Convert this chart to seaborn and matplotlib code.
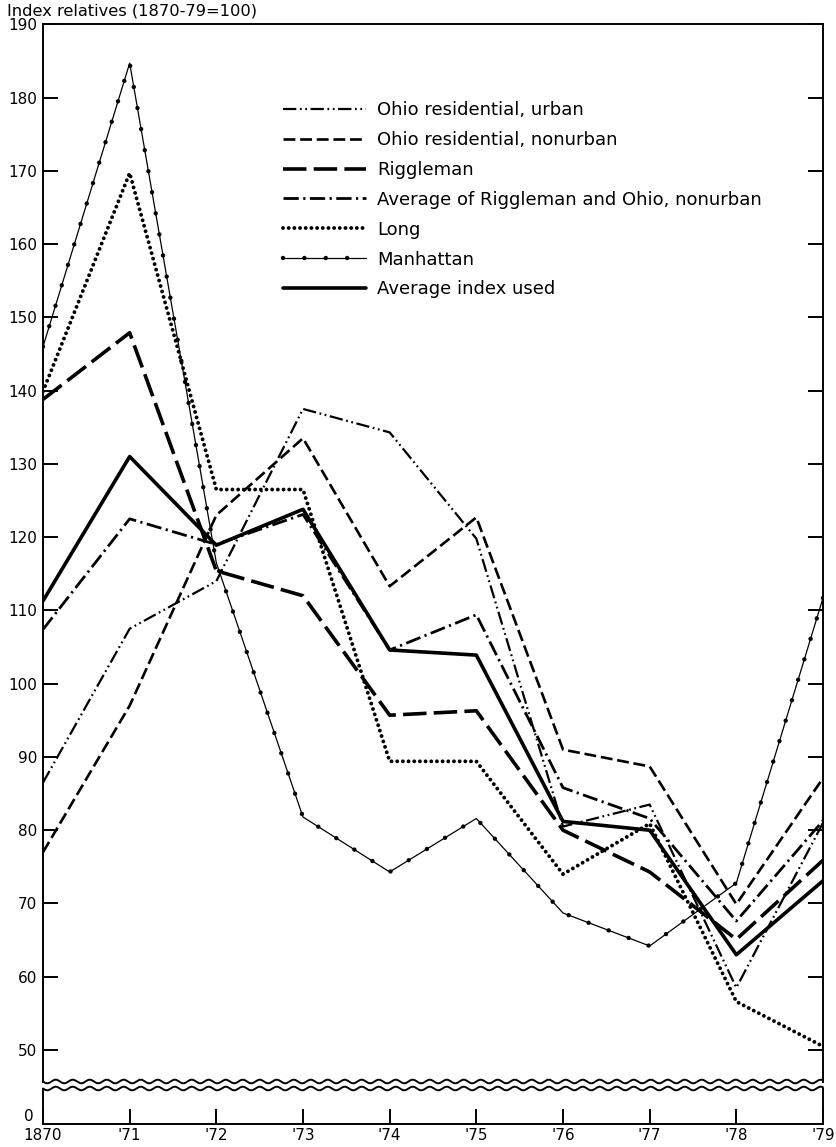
import matplotlib
matplotlib.use("Agg")
import matplotlib.pyplot as plt
from matplotlib.lines import Line2D
import numpy as np
import seaborn as sns

# --- data (index relatives, 1870-79 = 100) ---
years = list(range(1870, 1880))
year_labels = ["1870", "'71", "'72", "'73", "'74", "'75", "'76", "'77", "'78", "'79"]

ohio_urban = [86.5, 107.5, 114.0, 137.5, 134.3, 119.8, 80.5, 83.5, 58.5, 81.0]
ohio_nonurban = [77.0, 97.0, 123.0, 133.5, 113.3, 122.7, 91.0, 88.7, 69.9, 87.1]
riggleman = [138.8, 147.9, 115.4, 112.0, 95.7, 96.3, 80.0, 74.3, 65.1, 75.9]
avg_rigg_ohio = [107.4, 122.5, 119.0, 123.1, 104.6, 109.4, 85.8, 81.6, 67.6, 81.3]
long_index = [139.9, 169.7, 126.5, 126.5, 89.4, 89.4, 74.0, 80.9, 56.6, 50.5]
manhattan = [146.0, 184.7, 116.5, 81.8, 74.3, 81.6, 68.7, 64.2, 72.8, 111.7]
avg_used = [111.3, 131.0, 118.9, 123.8, 104.6, 103.9, 81.2, 80.0, 63.0, 73.1]

names = ["Ohio residential, urban", "Ohio residential, nonurban", "Riggleman",
         "Average of Riggleman and Ohio, nonurban", "Long", "Manhattan",
         "Average index used"]
values = [ohio_urban, ohio_nonurban, riggleman, avg_rigg_ohio, long_index,
          manhattan, avg_used]

sns.set_theme(style="ticks", rc={"axes.edgecolor": "black", "xtick.color": "black",
                                 "ytick.color": "black", "text.color": "black"})
plt.rcParams["font.family"] = ["DejaVu Sans"]

W, H = 836, 1147
fig = plt.figure(figsize=(W / 100, H / 100), dpi=100)

x0, x1 = 43, 823
top, wave_hi, wave_lo, bot = 24.3, 1081.5, 1088.5, 1124
ax = fig.add_axes([x0 / W, 1 - wave_hi / H, (x1 - x0) / W, (wave_hi - top) / H])
axb = fig.add_axes([x0 / W, 1 - bot / H, (x1 - x0) / W, (bot - wave_lo) / H])

styles = {
    "Ohio residential, urban": dict(lw=1.6, linestyle=(0, (6, 1.6, 0.8, 1.6, 0.8, 1.6))),
    "Ohio residential, nonurban": dict(lw=1.9, linestyle=(0, (4.5, 1.8))),
    "Riggleman": dict(lw=2.6, linestyle=(0, (6.5, 2.0))),
    "Average of Riggleman and Ohio, nonurban": dict(lw=2.0, linestyle=(0, (5.5, 1.6, 0.8, 1.6))),
    "Long": dict(lw=2.8, linestyle=(0, (0.01, 1.45)), dash_capstyle="round"),
    "Manhattan": dict(lw=0.9, linestyle="-"),
    "Average index used": dict(lw=2.6, linestyle="-"),
}

handles = []
for name, vals in zip(names, values):
    sns.lineplot(x=years, y=vals, ax=ax, color="black", legend=False, **styles[name])
    h = ax.lines[-1]
    if name == "Manhattan":
        # beaded look: dots strung along the thin line
        sns.lineplot(x=years, y=vals, ax=ax, color="black", legend=False, lw=3.2,
                     linestyle=(0, (0.01, 4.8)), dash_capstyle="round")
        h = (h, ax.lines[-1])
    handles.append(h)

ax.legend(handles, names, loc="upper left", bbox_to_anchor=(283 / W, 1 - 101 / H),
          bbox_transform=fig.transFigure, frameon=False, fontsize=13,
          handlelength=4.6, handletextpad=0.6, labelspacing=0.66,
          borderpad=0, borderaxespad=0)

ax.set_xlim(1870, 1879)
ax.set_ylim(45.7, 190)
ax.set_yticks(range(50, 191, 10))
ax.set_yticklabels([str(v) for v in range(50, 191, 10)])
ax.tick_params(axis="y", direction="in", length=11, width=1.4, left=True, right=True,
               labelsize=11, pad=4)
ax.tick_params(axis="x", bottom=False, labelbottom=False)
ax.spines["bottom"].set_visible(False)
for s in ["left", "right", "top"]:
    ax.spines[s].set_linewidth(1.4)
ax.set_xlabel("")
ax.set_ylabel("")

axb.set_xlim(1870, 1879)
axb.set_ylim(0, 1)
axb.set_yticks([0])
axb.set_yticklabels(["0"])
axb.tick_params(axis="y", length=0, labelsize=11, pad=7)
for t in axb.get_yticklabels():
    t.set_verticalalignment("bottom")
axb.set_xticks(years)
axb.set_xticklabels(year_labels)
axb.tick_params(axis="x", direction="in", length=11, width=1.4, labelsize=11, pad=3)
axb.spines["top"].set_visible(False)
for s in ["left", "right", "bottom"]:
    axb.spines[s].set_linewidth(1.4)

# axis break: two wavy lines between the panels
xs = np.linspace(x0, x1, 800)
for yc in (wave_hi, wave_lo):
    ys = yc + 1.8 * np.sin(2 * np.pi * (xs - x0) / 17.0)
    fig.add_artist(Line2D(xs / W, 1 - ys / H, transform=fig.transFigure,
                          color="black", lw=1.4))

fig.text(7 / W, 1 - 3 / H, "Index relatives (1870-79=100)", fontsize=11.7,
         ha="left", va="top")

fig.savefig("out.png", dpi=100)
